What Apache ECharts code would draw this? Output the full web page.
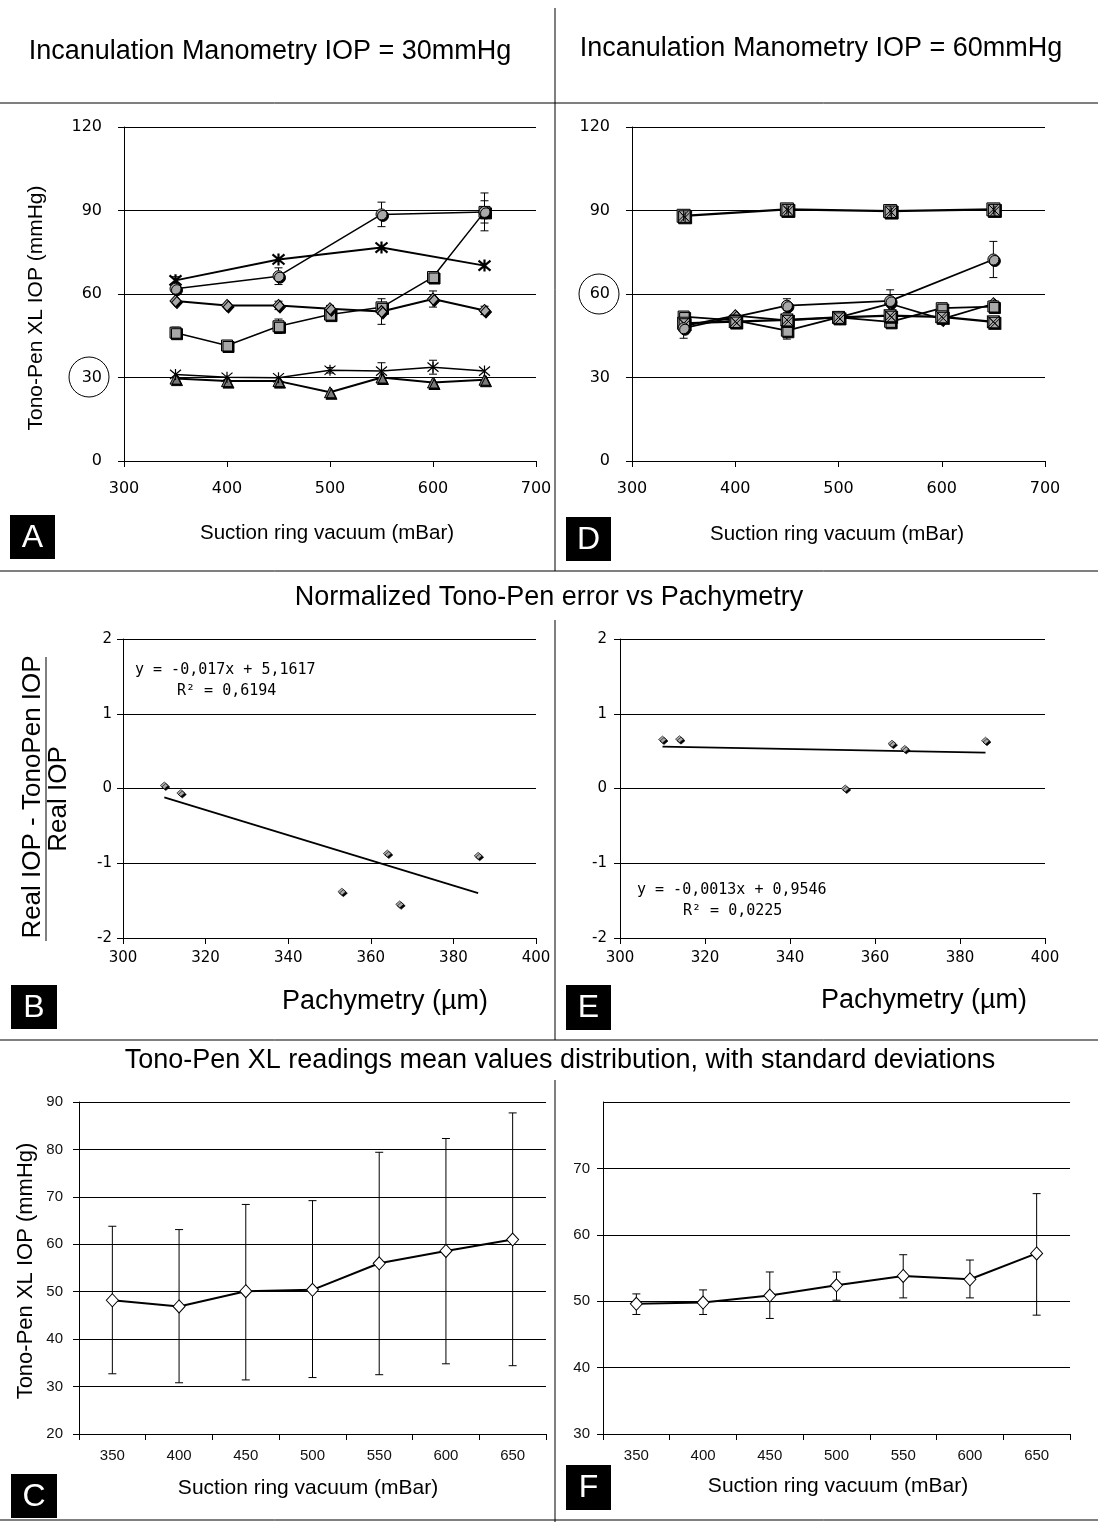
<!DOCTYPE html>
<html><head><meta charset="utf-8">
<script src="https://cdn.jsdelivr.net/npm/echarts@6/dist/echarts.min.js"></script>
<style>html,body{margin:0;padding:0;background:#fff}#c{width:1098px;height:1522px}</style>
</head><body><div id="c"></div><script>
// ---------- data ----------
const vacuum = [350, 400, 450, 500, 550, 600, 650];
const vacuumLabels = ['350', '400', '450', '500', '550', '600', '650'];

// Panel A (IOP = 30 mmHg)
const aCircle = [61.9, null, 66.4, null, 88.6, null, 89.5];
const aCircleErr = [1.2, 0, 3, 0, 4.4, 0, 6.8];
const aStar = [64.9, null, 72.4, null, 76.7, null, 70.2];
const aStarErr = [1.3, 0, 0, 0, 0, 0, 0];
const aDiamond = [57.5, 55.9, 55.9, 54.7, 53.7, 58.2, 54.1];
const aDiamondErr = [0, 0, 1.5, 1.2, 4.6, 2.9, 1.5];
const aSquare = [46.1, 41.5, 48.4, 52.6, 55.2, 66.1, 89.5];
const aSquareErr = [2, 1.5, 2.6, 0, 1.5, 0, 4];
const aAsterisk = [31.1, 30.1, 29.9, 32.6, 32.3, 33.7, 32.3];
const aAsteriskErr = [0, 0, 0, 1, 3, 2.5, 0];
const aTriangle = [29.6, 28.7, 28.7, 24.7, 30.0, 28.2, 29.2];

// Panel D (IOP = 60 mmHg)
const dStarSq = [88.1, null, 90.4, null, 89.8, null, 90.4];
const dCircle = [47.7, null, 55.8, null, 57.5, null, 72.4];
const dCircleErr = [3.6, 0, 2.5, 0, 4, 0, 6.5];
const dXSquare = [49.5, 50.1, 50.7, 51.6, 52.2, 51.8, 50.0];
const dXSquareErr = [0, 0, 0, 0, 0, 2.5, 0];
const dSquare = [51.9, 50.5, 46.8, 51.6, 50.0, 54.9, 55.5];
const dSquareErr = [0, 0, 3, 0, 0, 0, 2];
const dDiamond = [48.5, 52.2, 50.5, 51.6, 56.5, 51.0, 56.5];

// Panels B / E (normalized error vs pachymetry)
const pachy = [310, 314, 353, 364, 367, 386];
const bError = [0.04, -0.06, -1.38, -0.87, -1.55, -0.90];
const eError = [0.655, 0.66, 0.0, 0.60, 0.53, 0.64];
const bTrend = [[310, -0.12], [386, -1.40]];
const eTrend = [[310, 0.56], [386, 0.48]];

// Panels C / F (mean values with SD)
const cMean = [48.2, 46.9, 50.1, 50.4, 56.0, 58.6, 61.0];
const cHigh = [63.8, 63.1, 68.4, 69.2, 79.4, 82.3, 87.7];
const cLow = [32.7, 30.8, 31.4, 31.9, 32.5, 34.8, 34.4];
const fMean = [49.6, 49.8, 50.85, 52.4, 53.8, 53.3, 57.2];
const fHigh = [51.1, 51.7, 54.4, 54.4, 57.0, 56.2, 66.2];
const fLow = [48.0, 48.0, 47.4, 50.15, 50.5, 50.5, 47.9];

// ---------- helpers ----------
const ARIAL = '"Liberation Sans", Arial, sans-serif';
const VERD = '"DejaVu Sans", Verdana, sans-serif';
const MONO = '"DejaVu Sans Mono", monospace';
const GRAY = '#a9a9a9';
const pairs = (xs, ys) => xs.map((x, i) => ys[i] == null ? null : [x, ys[i]]).filter(Boolean);
const errs = (xs, ys, e) => xs.map((x, i) => (ys[i] != null && e[i] > 0) ? [x, ys[i] - e[i], ys[i] + e[i]] : null).filter(Boolean);

const P_ASTER = 'path://M5,0L5,10M0.8,0.8L9.2,9.2M9.2,0.8L0.8,9.2';
const P_SQ_X = 'path://M0,0L10,0L10,10L0,10ZM0,0L10,10M10,0L0,10';
const P_SQ_AST = 'path://M0,0L10,0L10,10L0,10ZM5,1L5,9M1.5,1.5L8.5,8.5M8.5,1.5L1.5,8.5';

function errRender(cap) {
  return function (params, api) {
    const x = api.value(0), lo = api.value(1), hi = api.value(2);
    const a = api.coord([x, hi]), b = api.coord([x, lo]);
    const st = { stroke: '#000', lineWidth: 1 };
    return { type: 'group', children: [
      { type: 'line', shape: { x1: a[0], y1: a[1], x2: b[0], y2: b[1] }, style: st },
      { type: 'line', shape: { x1: a[0] - cap, y1: a[1], x2: a[0] + cap, y2: a[1] }, style: st },
      { type: 'line', shape: { x1: b[0] - cap, y1: b[1], x2: b[0] + cap, y2: b[1] }, style: st }
    ]};
  };
}
function errSeries(idx, data, cap) {
  return { type: 'custom', xAxisIndex: idx, yAxisIndex: idx, data: data, renderItem: errRender(cap), z: 1, silent: true };
}
const shadow = { shadowColor: '#000', shadowBlur: 0, shadowOffsetX: 1.5, shadowOffsetY: 1.5 };
function lineSeries(idx, data, symbol, size, fill, opts) {
  opts = opts || {};
  return Object.assign({
    type: 'line', xAxisIndex: idx, yAxisIndex: idx, data: data,
    symbol: symbol, symbolSize: size, showSymbol: true,
    lineStyle: { color: '#000', width: opts.lw || 1.8 },
    itemStyle: Object.assign({ color: fill, borderColor: '#000', borderWidth: opts.bw == null ? 1 : opts.bw, opacity: 1 }, opts.noShadow ? {} : shadow),
    z: 3, animation: false, silent: true
  }, opts.extra || {});
}

const axisLine = { show: true, onZero: false, lineStyle: { color: '#000', width: 1 } };
const axisTick = { show: true, inside: false, length: 6, lineStyle: { color: '#000' } };
const split = { show: true, lineStyle: { color: '#000', width: 1 } };

function valX(idx, min, max, interval, font, size, margin) {
  return { type: 'value', gridIndex: idx, min: min, max: max, interval: interval,
    axisLine: axisLine, axisTick: axisTick, splitLine: { show: false },
    axisLabel: { color: '#000', fontFamily: font, fontSize: size, margin: margin } };
}
function valY(idx, min, max, interval, font, size, margin, extra) {
  return Object.assign({ type: 'value', gridIndex: idx, min: min, max: max, interval: interval,
    axisLine: axisLine, axisTick: axisTick, splitLine: split,
    axisLabel: Object.assign({ color: '#000', fontFamily: font, fontSize: size, margin: margin }, (extra || {})) });
}
function catX(idx) {
  return { type: 'category', gridIndex: idx, data: vacuumLabels, boundaryGap: true,
    axisLine: axisLine, axisTick: { show: true, inside: false, length: 6, interval: 0, lineStyle: { color: '#000' } },
    splitLine: { show: false },
    axisLabel: { color: '#111', fontFamily: ARIAL, fontSize: 15, margin: 14, interval: 0 } };
}

// ---------- graphic (frames, titles, labels) ----------
function txt(x, y, s, font, opts) {
  opts = opts || {};
  return { type: 'text', x: x, y: y, rotation: opts.rot || 0, silent: true, z: 10,
    style: { text: s, font: font, fill: opts.fill || '#000',
      textAlign: opts.align || 'center', align: opts.align || 'center',
      textVerticalAlign: 'middle', verticalAlign: 'middle' } };
}
function hline(x1, y1, x2, y2) {
  return { type: 'line', silent: true, z: 10, shape: { x1: x1, y1: y1, x2: x2, y2: y2 }, style: { stroke: '#000', lineWidth: 1 } };
}
function letter(x, y, w, h, s) {
  return [
    { type: 'rect', silent: true, z: 10, shape: { x: x, y: y, width: w, height: h }, style: { fill: '#000' } },
    txt(x + w / 2, y + h / 2 + 1, s, '32px ' + ARIAL, { fill: '#fff' })
  ];
}
const ROT = Math.PI / 2;
const graphics = [
  hline(0, 103, 1098, 103), hline(0, 571, 1098, 571), hline(0, 1040, 1098, 1040), hline(0, 1520, 1098, 1520),
  hline(555, 8, 555, 571), hline(555, 620, 555, 1040), hline(555, 1080, 555, 1522),
  txt(270, 52, 'Incanulation Manometry IOP = 30mmHg', '27px ' + ARIAL),
  txt(821, 49, 'Incanulation Manometry IOP = 60mmHg', '27px ' + ARIAL),
  txt(549, 598, 'Normalized Tono-Pen error vs Pachymetry', '27px ' + ARIAL),
  txt(560, 1061, 'Tono-Pen XL readings mean values distribution, with standard deviations', '27px ' + ARIAL),
  txt(36, 308, 'Tono-Pen XL IOP (mmHg)', '21px ' + ARIAL, { rot: ROT }),
  txt(327, 533, 'Suction ring vacuum (mBar)', '20.5px ' + ARIAL),
  txt(837, 534, 'Suction ring vacuum (mBar)', '20.5px ' + ARIAL),
  txt(33, 797, 'Real IOP - TonoPen IOP', '26px ' + ARIAL, { rot: ROT }),
  hline(46, 657, 46, 941),
  txt(59, 799, 'Real IOP', '26px ' + ARIAL, { rot: ROT }),
  txt(385, 1002, 'Pachymetry (µm)', '27px ' + ARIAL),
  txt(924, 1001, 'Pachymetry (µm)', '27px ' + ARIAL),
  txt(135, 670, 'y = -0,017x + 5,1617', '15px ' + MONO, { align: 'left' }),
  txt(177, 691, 'R² = 0,6194', '15px ' + MONO, { align: 'left' }),
  txt(637, 890, 'y = -0,0013x + 0,9546', '15px ' + MONO, { align: 'left' }),
  txt(683, 911, 'R² = 0,0225', '15px ' + MONO, { align: 'left' }),
  txt(26, 1271, 'Tono-Pen XL IOP (mmHg)', '22px ' + ARIAL, { rot: ROT }),
  txt(308, 1488, 'Suction ring vacuum (mBar)', '21px ' + ARIAL),
  txt(838, 1486, 'Suction ring vacuum (mBar)', '21px ' + ARIAL),
  { type: 'circle', silent: true, z: 10, shape: { cx: 89, cy: 377, r: 20 }, style: { fill: 'none', stroke: '#000', lineWidth: 1 } },
  { type: 'circle', silent: true, z: 10, shape: { cx: 599, cy: 294, r: 20 }, style: { fill: 'none', stroke: '#000', lineWidth: 1 } }
].concat(letter(10, 515, 45, 44, 'A'), letter(566, 517, 45, 44, 'D'),
  letter(11, 985, 46, 44, 'B'), letter(566, 985, 45, 45, 'E'),
  letter(11, 1474, 46, 44, 'C'), letter(566, 1465, 45, 45, 'F'));

// ---------- option ----------
const option = {
  animation: false,
  backgroundColor: '#fff',
  grid: [
    { left: 124, top: 127, width: 412, height: 334 },
    { left: 632, top: 127, width: 413, height: 334 },
    { left: 123, top: 639, width: 413, height: 299 },
    { left: 620, top: 639, width: 425, height: 299 },
    { left: 79, top: 1102, width: 467, height: 332 },
    { left: 603, top: 1102, width: 467, height: 332 }
  ],
  xAxis: [
    valX(0, 300, 700, 100, VERD, 16, 20),
    valX(1, 300, 700, 100, VERD, 16, 20),
    valX(2, 300, 400, 20, VERD, 15, 13),
    valX(3, 300, 400, 20, VERD, 15, 13),
    catX(4),
    catX(5)
  ],
  yAxis: [
    valY(0, 0, 120, 30, VERD, 16, 22),
    valY(1, 0, 120, 30, VERD, 16, 22),
    valY(2, -2, 2, 1, VERD, 15, 11),
    valY(3, -2, 2, 1, VERD, 15, 13),
    valY(4, 20, 90, 10, ARIAL, 15, 16, { color: '#111' }),
    valY(5, 30, 80, 10, ARIAL, 15, 13, { color: '#111', showMaxLabel: false })
  ],
  graphic: graphics,
  series: [
    // Panel A
    errSeries(0, errs(vacuum, aCircle, aCircleErr), 4),
    errSeries(0, errs(vacuum, aStar, aStarErr), 4),
    errSeries(0, errs(vacuum, aDiamond, aDiamondErr), 4),
    errSeries(0, errs(vacuum, aSquare, aSquareErr), 4),
    errSeries(0, errs(vacuum, aAsterisk, aAsteriskErr), 4),
    lineSeries(0, pairs(vacuum, aTriangle), 'triangle', 11, '#7a7a7a', { lw: 2 }),
    lineSeries(0, pairs(vacuum, aAsterisk), P_ASTER, 11, 'rgba(0,0,0,0)', { lw: 1.5, bw: 1.2, noShadow: true }),
    lineSeries(0, pairs(vacuum, aSquare), 'rect', 11, GRAY, { lw: 1.5 }),
    lineSeries(0, pairs(vacuum, aDiamond), 'diamond', [11, 12], GRAY, { lw: 2 }),
    lineSeries(0, pairs(vacuum, aStar), P_ASTER, 12, 'rgba(0,0,0,0)', { lw: 2, bw: 2.2, noShadow: true }),
    lineSeries(0, pairs(vacuum, aCircle), 'circle', 11, GRAY, { lw: 1.5 }),
    // Panel D
    errSeries(1, errs(vacuum, dCircle, dCircleErr), 4),
    errSeries(1, errs(vacuum, dXSquare, dXSquareErr), 4),
    errSeries(1, errs(vacuum, dSquare, dSquareErr), 4),
    lineSeries(1, pairs(vacuum, dDiamond), 'diamond', [11, 12], GRAY, { lw: 1.8 }),
    lineSeries(1, pairs(vacuum, dSquare), 'rect', 11, GRAY, { lw: 1.8 }),
    lineSeries(1, pairs(vacuum, dXSquare), P_SQ_X, 12, GRAY, { lw: 2.2, bw: 1 }),
    lineSeries(1, pairs(vacuum, dCircle), 'circle', 11, GRAY, { lw: 1.8 }),
    lineSeries(1, pairs(vacuum, dStarSq), P_SQ_AST, 13, GRAY, { lw: 2.2, bw: 1 }),
    // Panel B
    { type: 'line', xAxisIndex: 2, yAxisIndex: 2, data: bTrend, symbol: 'none', lineStyle: { color: '#000', width: 1.8 }, silent: true, z: 2 },
    { type: 'scatter', xAxisIndex: 2, yAxisIndex: 2, data: pairs(pachy, bError), symbol: 'diamond', symbolSize: [8, 7],
      itemStyle: Object.assign({ color: GRAY, borderColor: '#000', borderWidth: 0.6, opacity: 1 }, shadow), silent: true, z: 3 },
    // Panel E
    { type: 'line', xAxisIndex: 3, yAxisIndex: 3, data: eTrend, symbol: 'none', lineStyle: { color: '#000', width: 1.8 }, silent: true, z: 2 },
    { type: 'scatter', xAxisIndex: 3, yAxisIndex: 3, data: pairs(pachy, eError), symbol: 'diamond', symbolSize: [8, 7],
      itemStyle: Object.assign({ color: GRAY, borderColor: '#000', borderWidth: 0.6, opacity: 1 }, shadow), silent: true, z: 3 },
    // Panel C
    errSeries(4, vacuum.map((v, i) => [i, cLow[i], cHigh[i]]), 4),
    { type: 'line', xAxisIndex: 4, yAxisIndex: 4, data: cMean, symbol: 'diamond', symbolSize: [12, 13],
      lineStyle: { color: '#000', width: 2 }, itemStyle: { color: '#fff', borderColor: '#000', borderWidth: 1 }, silent: true, z: 3 },
    // Panel F
    errSeries(5, vacuum.map((v, i) => [i, fLow[i], fHigh[i]]), 4),
    { type: 'line', xAxisIndex: 5, yAxisIndex: 5, data: fMean, symbol: 'diamond', symbolSize: [12, 13],
      lineStyle: { color: '#000', width: 2 }, itemStyle: { color: '#fff', borderColor: '#000', borderWidth: 1 }, silent: true, z: 3 }
  ]
};
const chart = echarts.init(document.getElementById('c'), null, { renderer: 'canvas' });
chart.setOption(option);
</script></body></html>
